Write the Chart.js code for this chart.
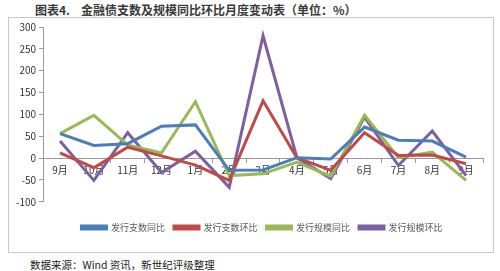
<!DOCTYPE html>
<html>
<head>
<meta charset="utf-8">
<script src="https://cdn.jsdelivr.net/npm/chart.js@4"></script>
<style>
  body { margin: 0; background: #fff; font-family: "Noto Sans CJK SC", sans-serif; }
  #title { position: absolute; left: 35px; top: 1px; font-size: 12px; font-weight: bold; color: #3a3a3a; white-space: pre; }
  #box { position: absolute; left: 8px; top: 17px; width: 484px; height: 234px; border: 1px solid #c8c8c8; }
  #source { position: absolute; left: 30px; top: 257px; font-size: 10.5px; color: #222; }
</style>
</head>
<body>
<div id="title">图表4.    金融债支数及规模同比环比月度变动表（单位：%）</div>
<div id="box"><canvas id="chart"></canvas></div>
<div id="source">数据来源：Wind 资讯，新世纪评级整理</div>
<script>
const months = ["9月", "10月", "11月", "12月", "1月", "2月", "3月", "4月", "5月", "6月", "7月", "8月", "9月"];
const countYoY = [56, 29, 33, 73, 76, -28, -27, 1, -2, 71, 41, 39, 2];
const countMoM = [12, -22, 25, 5, -16, -51, 131, 1, -28, 58, 6, 7, -13];
const sizeYoY = [56, 98, 30, 12, 129, -40, -36, -9, -42, 98, 1, 14, -51];
const sizeMoM = [39, -51, 58, -33, 16, -67, 280, 1, -47, 94, -17, 62, -40];

const font = { family: "'Noto Sans CJK SC', sans-serif", size: 10 };

function series(label, data, color) {
  return {
    label: label,
    data: data,
    borderColor: color,
    backgroundColor: color,
    borderWidth: 3,
    pointRadius: 0,
    tension: 0,
  };
}

// the original legend sits a bit right of centre
const legendShift = {
  id: "legendShift",
  afterLayout(chart) {
    chart.legend.left += 14;
    chart.legend.right += 14;
  },
};

new Chart(document.getElementById("chart"), {
  type: "line",
  data: {
    labels: months,
    datasets: [
      series("发行支数同比", countYoY, "#4a7ebb"),
      series("发行支数环比", countMoM, "#be4b48"),
      series("发行规模同比", sizeYoY, "#98b954"),
      series("发行规模环比", sizeMoM, "#7d60a0"),
    ],
  },
  options: {
    responsive: true,
    maintainAspectRatio: false,
    animation: false,
    layout: { padding: { left: 4, right: 10, top: 4, bottom: 10 } },
    plugins: {
      legend: {
        position: "bottom",
        // empty title only used as a spacer between the plot and the legend
        title: { display: true, text: " ", font: { size: 1 }, padding: { top: 11, bottom: 0 } },
        labels: { boxWidth: 25, boxHeight: 3, color: "#595959", font: { family: font.family, size: 9 }, padding: 9 },
      },
      tooltip: { enabled: false },
    },
    scales: {
      x: {
        position: { y: 0 },
        offset: true,
        grid: { drawOnChartArea: false, offset: true, tickLength: 4, color: "#999" },
        border: { color: "#999" },
        ticks: { color: "#333", font: font, maxRotation: 0, autoSkip: false, padding: 2 },
      },
      y: {
        min: -100,
        max: 300,
        ticks: { stepSize: 50, color: "#333", font: font, padding: 3 },
        grid: { drawOnChartArea: false, tickLength: 4, color: "#999" },
        border: { color: "#999" },
      },
    },
  },
  plugins: [legendShift],
});
</script>
</body>
</html>
